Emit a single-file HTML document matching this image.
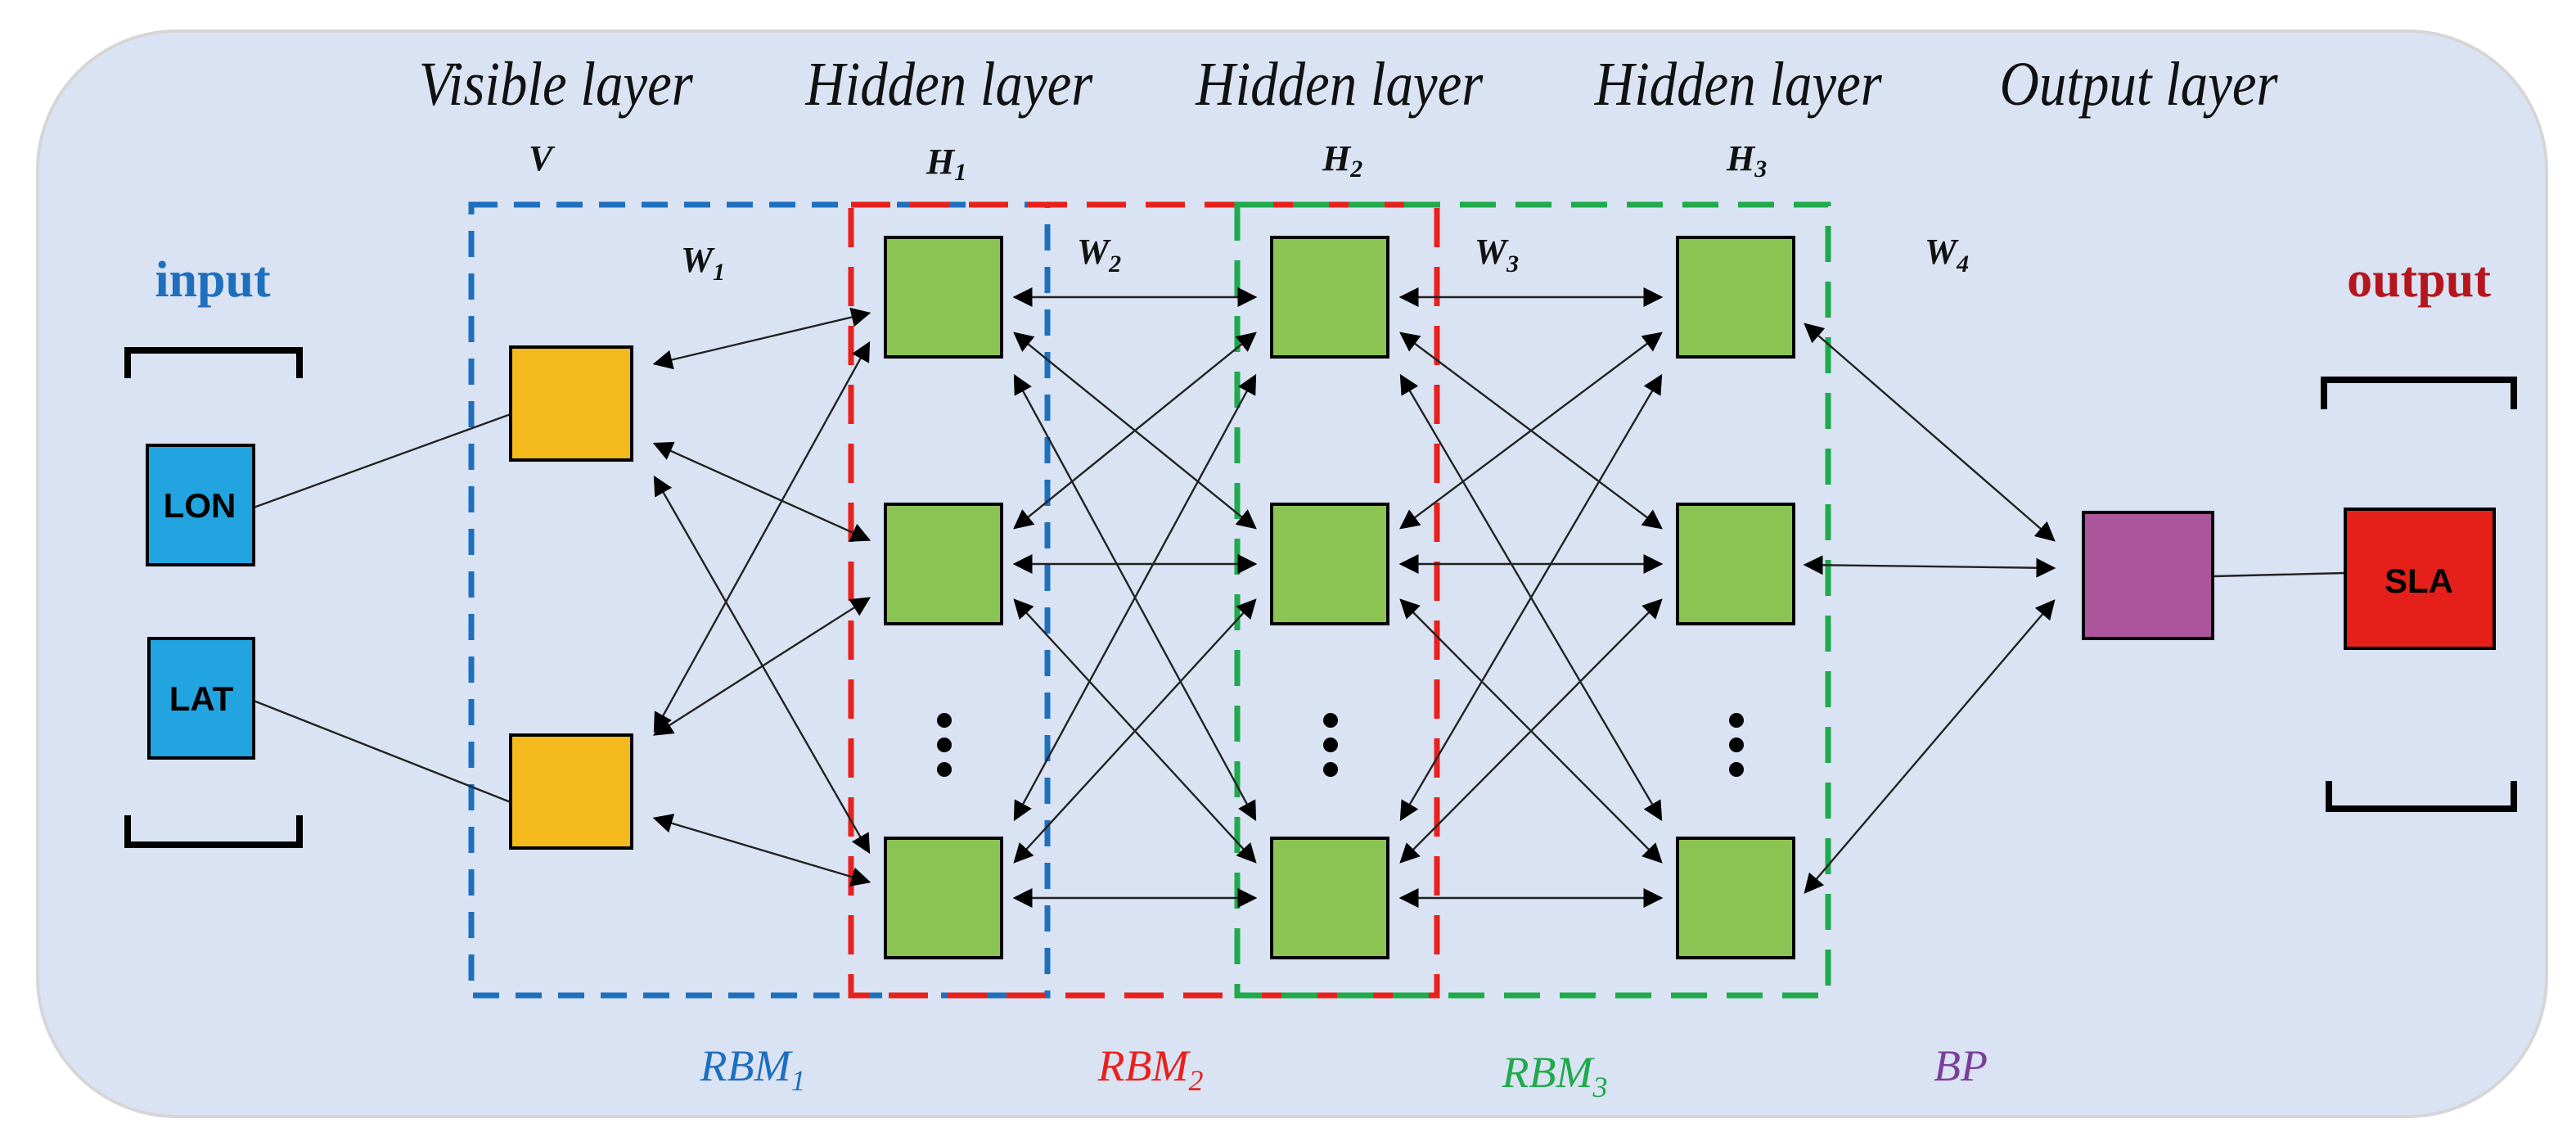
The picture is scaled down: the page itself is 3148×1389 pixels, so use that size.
<!DOCTYPE html>
<html><head><meta charset="utf-8"><style>
html,body{margin:0;padding:0;background:#fff;}
svg{display:block;}
.t{font-family:"Liberation Serif",serif;font-style:italic;}
</style></head><body>
<svg id="s" width="3148" height="1389" viewBox="0 0 1574 694.5" xmlns="http://www.w3.org/2000/svg">
<defs>
<marker id="a" viewBox="0 0 10 10" refX="9" refY="5" markerWidth="12" markerHeight="12" markerUnits="userSpaceOnUse" orient="auto-start-reverse"><path d="M0,0 L10,5 L0,10 z" fill="#000"/></marker>
</defs>
<rect x="23" y="19" width="1533" height="663" rx="85" fill="#dae3f3" stroke="#d6d6d6" stroke-width="2"/>
<g class="t" font-size="38" fill="#111" text-anchor="middle" transform="scale(0.88,1)">
<text x="386" y="64">Visible layer</text>
<text x="659" y="64">Hidden layer</text>
<text x="930" y="64">Hidden layer</text>
<text x="1207" y="64">Hidden layer</text>
<text x="1485" y="64">Output layer</text>
</g>
<g class="t" font-size="22" font-weight="bold" fill="#111">
<text x="323" y="104">V</text>
<text x="566" y="106">H<tspan font-size="15" dy="4">1</tspan></text>
<text x="808" y="104">H<tspan font-size="15" dy="4">2</tspan></text>
<text x="1055" y="104">H<tspan font-size="15" dy="4">3</tspan></text>
<text x="416" y="166">W<tspan font-size="15" dy="5">1</tspan></text>
<text x="658" y="161">W<tspan font-size="15" dy="5">2</tspan></text>
<text x="901" y="161">W<tspan font-size="15" dy="5">3</tspan></text>
<text x="1176" y="161">W<tspan font-size="15" dy="5">4</tspan></text>
</g>
<text x="130" y="181" text-anchor="middle" font-family="Liberation Serif,serif" font-weight="bold" font-size="31" fill="#1f6fbf">input</text>
<text x="1478" y="181" text-anchor="middle" font-family="Liberation Serif,serif" font-weight="bold" font-size="31" fill="#b5161d">output</text>
<g fill="none" stroke="#000" stroke-width="4">
<path d="M78,231 V214 H183 V231"/>
<path d="M78,498 V516 H183 V498"/>
<path d="M1420,250 V232 H1536 V250"/>
<path d="M1423,477 V494 H1536 V477"/>
</g>
<g stroke-width="3.5" fill="none" stroke-dasharray="16,10">
<rect x="288" y="125" width="352" height="483" stroke="#1f6fbf"/>
<rect x="520" y="125" width="358" height="483" stroke="#e8211d" stroke-dasharray="24,12"/>
<rect x="756" y="125" width="361" height="483" stroke="#1faa4b" stroke-dasharray="22,12"/>
</g>
<g id="L" stroke="#222" stroke-width="1.2"></g>
<g stroke="#000" stroke-width="2">
<rect x="90" y="272" width="65" height="73" fill="#22a4e0"/>
<rect x="91" y="390" width="64" height="73" fill="#22a4e0"/>
<rect x="312" y="212" width="74" height="69" fill="#f4b91c"/>
<rect x="312" y="449" width="74" height="69" fill="#f4b91c"/>
<rect x="1273" y="313" width="79" height="77" fill="#ac559c"/>
<rect x="1433" y="311" width="91" height="85" fill="#e51f19"/>
</g>
<g id="G" stroke="#000" stroke-width="2" fill="#8bc453"></g>
<g font-family="Liberation Sans,sans-serif" font-weight="bold" font-size="21" text-anchor="middle">
<text x="122" y="316">LON</text>
<text x="123" y="434">LAT</text>
<text x="1478" y="362">SLA</text>
</g>
<g class="t" font-size="27" text-anchor="middle">
<text x="460" y="660" fill="#1f6fbf">RBM<tspan font-size="18" dy="6">1</tspan></text>
<text x="703" y="660" fill="#e8211d">RBM<tspan font-size="18" dy="6">2</tspan></text>
<text x="950" y="664" fill="#1faa4b">RBM<tspan font-size="18" dy="6">3</tspan></text>
<text x="1198" y="660" fill="#7b3f9b">BP</text>
</g>
<script>
var NS="http://www.w3.org/2000/svg";
var L=document.getElementById('L'),G=document.getElementById('G');
function ln(x1,y1,x2,y2,arr){var l=document.createElementNS(NS,'line');l.setAttribute('x1',x1);l.setAttribute('y1',y1);l.setAttribute('x2',x2);l.setAttribute('y2',y2);if(arr){l.setAttribute('marker-start','url(#a)');l.setAttribute('marker-end','url(#a)');}L.appendChild(l);}
var cols=[541,777,1025],rows=[145,308,512],w=71,h=73;
cols.forEach(function(x){rows.forEach(function(y){var r=document.createElementNS(NS,'rect');r.setAttribute('x',x);r.setAttribute('y',y);r.setAttribute('width',w);r.setAttribute('height',h);G.appendChild(r);});
[440,455,470].forEach(function(y){var c=document.createElementNS(NS,'circle');c.setAttribute('cx',x+36);c.setAttribute('cy',y);c.setAttribute('r',3.5);c.setAttribute('fill','#000');G.appendChild(c);});});
ln(155,310,312,253);ln(155,428,312,490);ln(1352,352,1433,350);
var yl=[[212,281],[449,518]];
yl.forEach(function(yy,i){var c=(yy[0]+yy[1])/2;
 rows.forEach(function(r,j){var tc=r+h/2;var d=tc-c;var sy=c+Math.max(-45,Math.min(45,d*0.25))+ (i==0?-8:8)*(j==0?1:0);
 var ey=tc+Math.max(-28,Math.min(28,-d*0.15));ln(400,sy,531,ey,true);});});
for(var k=0;k<2;k++){var x1=cols[k]+w+8,x2=cols[k+1]-10;
 rows.forEach(function(r,i){var c=r+h/2;rows.forEach(function(q,j){var tc=q+h/2;
  if(i==j){ln(x1,c,x2,c,true);return;}
  var d=tc-c;var sy=c+(d>0?1:-1)*(Math.abs(d)>250?48:22);var ey=tc-(d>0?1:-1)*(Math.abs(d)>250?48:22);
  ln(x1,sy,x2,ey,true);});});}
ln(1103,198,1255,330,true);ln(1103,345,1255,347,true);ln(1103,545,1255,367,true);
</script>
</svg>
</body></html>
